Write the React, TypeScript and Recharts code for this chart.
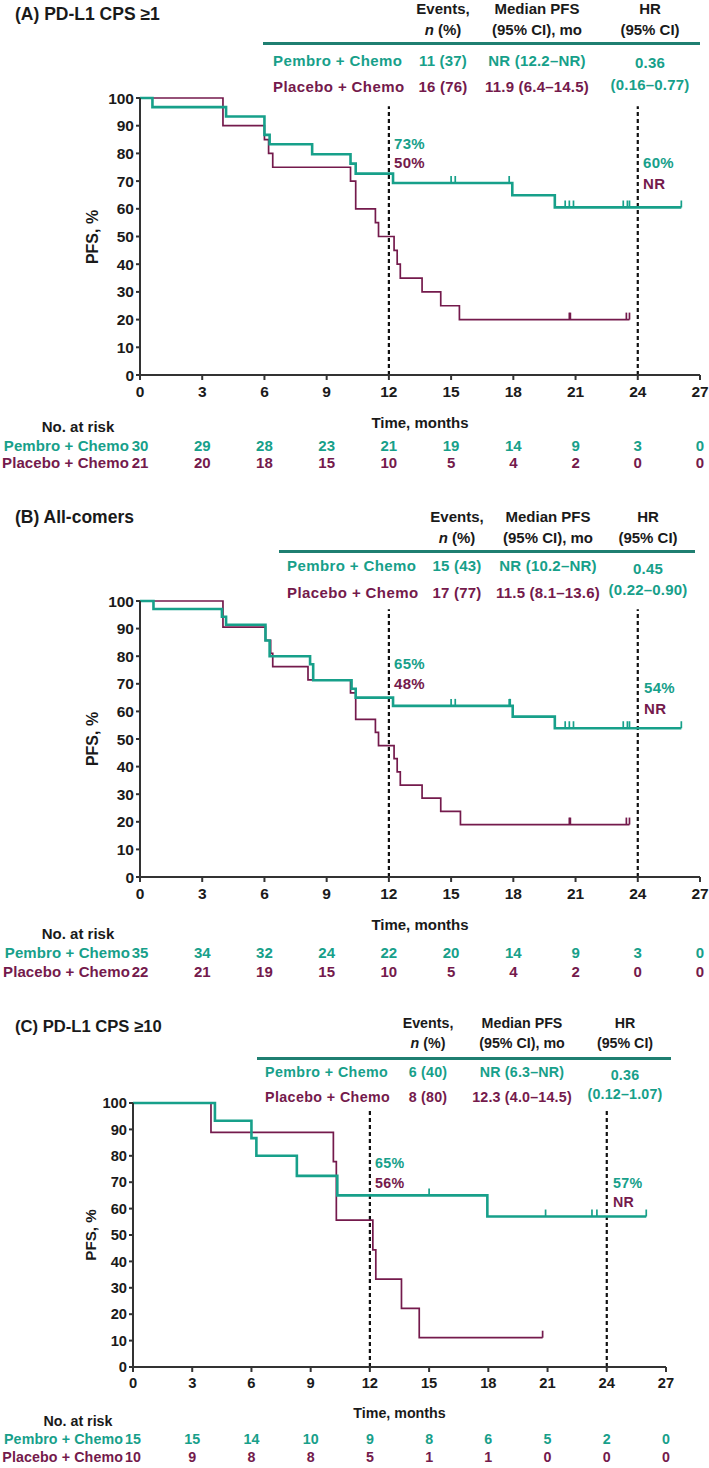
import React from 'react'
import { LineChart, Line, XAxis, YAxis, ReferenceLine } from 'recharts'

const TEAL = '#17a08a'
const MAROON = '#741a4c'
const RULE = '#1f7f71'
const INK = '#1a1a1a'
const AXIS = '#333333'
const FONT = '"Liberation Sans", Arial, Helvetica, sans-serif'

const monthTicks = [0, 3, 6, 9, 12, 15, 18, 21, 24, 27]
const pfsTicks = [0, 10, 20, 30, 40, 50, 60, 70, 80, 90, 100]
const armLabels = ['Pembro + Chemo', 'Placebo + Chemo']

// (A) PD-L1 CPS >= 1
const pembroA_t = [0, 0.6, 4.15, 6.0, 6.25, 8.3, 10.15, 10.4, 12.2, 17.95, 20.0]
const pembroA_s = [100, 96.7, 93.3, 86.7, 83.3, 79.7, 76.3, 72.7, 69.3, 64.9, 60.5]
const pembroA_cens = [15.0, 15.2, 17.8, 20.5, 20.7, 20.9, 23.3, 23.5, 23.6, 26.1]
const placeboA_t = [0, 4.0, 6.0, 6.2, 6.4, 10.15, 10.4, 11.35, 11.5, 12.25, 12.4, 12.55, 13.6, 14.5, 15.4]
const placeboA_s = [100, 90, 85, 80, 75, 70, 60, 55, 50, 45, 40, 35, 30, 25, 20]
const placeboA_cens = [20.7, 20.75, 23.45, 23.6]
const riskPembroA = [30, 29, 28, 23, 21, 19, 14, 9, 3, 0]
const riskPlaceboA = [21, 20, 18, 15, 10, 5, 4, 2, 0, 0]
const eventsA = ['11 (37)', '16 (76)']
const medianA = ['NR (12.2–NR)', '11.9 (6.4–14.5)']
const hrA = ['0.36', '(0.16–0.77)']
const at12A = ['73%', '50%']
const at24A = ['60%', 'NR']

// (B) All-comers
const pembroB_t = [0, 0.65, 3.95, 4.15, 6.05, 6.25, 8.2, 8.35, 10.2, 10.4, 12.2, 17.97, 20.0]
const pembroB_s = [100, 97.1, 94.3, 91.4, 85.7, 80.0, 77.1, 71.3, 68.2, 65.0, 62.0, 58.1, 53.9]
const pembroB_cens = [15.0, 15.2, 17.8, 17.85, 20.5, 20.7, 20.9, 23.3, 23.5, 23.6, 26.1]
const placeboB_t = [0, 4.0, 6.05, 6.3, 6.4, 8.1, 10.15, 10.4, 11.35, 11.5, 12.25, 12.4, 12.55, 13.6, 14.5, 15.45]
const placeboB_s = [100, 90.5, 85.7, 81.0, 76.2, 71.4, 66.7, 57.1, 52.4, 47.6, 42.9, 38.1, 33.3, 28.6, 23.8, 19.0]
const placeboB_cens = [20.7, 20.75, 23.45, 23.6]
const riskPembroB = [35, 34, 32, 24, 22, 20, 14, 9, 3, 0]
const riskPlaceboB = [22, 21, 19, 15, 10, 5, 4, 2, 0, 0]
const eventsB = ['15 (43)', '17 (77)']
const medianB = ['NR (10.2–NR)', '11.5 (8.1–13.6)']
const hrB = ['0.45', '(0.22–0.90)']
const at12B = ['65%', '48%']
const at24B = ['54%', 'NR']

// (C) PD-L1 CPS >= 10
const pembroC_t = [0, 4.15, 6.0, 6.25, 8.3, 10.35, 17.95]
const pembroC_s = [100, 93.3, 86.7, 80.0, 72.4, 65.0, 57.0]
const pembroC_cens = [15.0, 20.9, 23.25, 23.5, 26.0]
const placeboC_t = [0, 3.95, 10.15, 10.3, 12.15, 12.3, 13.6, 14.5]
const placeboC_s = [100, 88.9, 77.8, 55.6, 44.4, 33.3, 22.2, 11.1]
const placeboC_cens = [20.75]
const riskPembroC = [15, 15, 14, 10, 9, 8, 6, 5, 2, 0]
const riskPlaceboC = [10, 9, 8, 8, 5, 1, 1, 0, 0, 0]
const eventsC = ['6 (40)', '8 (80)']
const medianC = ['NR (6.3–NR)', '12.3 (4.0–14.5)']
const hrC = ['0.36', '(0.12–1.07)']
const at12C = ['65%', '56%']
const at24C = ['57%', 'NR']

type Pt = { t: number; s: number; c: boolean }

function kmData(times: number[], surv: number[], cens: number[]): Pt[] {
  const pts: Pt[] = times.map((t, i) => ({ t, s: surv[i], c: false }))
  cens.forEach((t) => {
    let s = surv[0]
    times.forEach((tt, i) => {
      if (tt <= t) s = surv[i]
    })
    pts.push({ t, s, c: true })
  })
  return pts.sort((a, b) => a.t - b.t)
}

const censorDot = (color: string, w: number) => (props: any) => {
  const { cx, cy, payload, index } = props
  if (!payload || !payload.c) return <g key={`d${index}`} />
  return <line key={`d${index}`} x1={cx} x2={cx} y1={cy} y2={cy - 7} stroke={color} strokeWidth={w} />
}

function Txt({ x, y, children, color = INK, size = 15, anchor = 'middle', weight = 700, spacing = 0 }: any) {
  const tx = anchor === 'middle' ? '-50%' : anchor === 'end' ? '-100%' : '0'
  return (
    <div
      style={{
        position: 'absolute',
        left: x,
        top: y,
        transform: `translate(${tx}, -50%)`,
        whiteSpace: 'nowrap',
        color,
        fontSize: size,
        fontWeight: weight,
        fontFamily: FONT,
        letterSpacing: spacing,
        lineHeight: 1,
      }}
    >
      {children}
    </div>
  )
}

interface PanelProps {
  title: string
  plot: { l: number; r: number; t: number; b: number }
  titleY: number
  head: { l1: number; l2: number; rule: number; ruleX: number[]; labelX: number; rows: number[]; hr: number[]; cols: number[] }
  foot: { time: number; nar: number; rows: number[]; labelEnd: number }
  notes: { x12: number; y12: number[]; x24: number; y24: number[] }
  pfsX: number
  k: number
  pembro: Pt[]
  placebo: Pt[]
  riskP: number[]
  riskQ: number[]
  events: string[]
  median: string[]
  hr: string[]
  at12: string[]
  at24: string[]
}

function Panel(p: PanelProps) {
  const yW = 45
  const plotW = p.plot.r - p.plot.l
  const plotH = p.plot.b - p.plot.t
  const fs = 15 * p.k
  const tickStyle = { fontSize: 15.5 * p.k, fontWeight: 700, fill: INK, fontFamily: FONT }
  const xOf = (m: number) => p.plot.l + (m / 27) * plotW
  const colors = [TEAL, MAROON]
  return (
    <>
      <Txt x={15} y={p.titleY} size={17.5 * p.k} anchor="start">{p.title}</Txt>
      <Txt x={p.head.cols[0]} y={p.head.l1} size={fs}>Events,</Txt>
      <Txt x={p.head.cols[0]} y={p.head.l2} size={fs}><i>n</i> (%)</Txt>
      <Txt x={p.head.cols[1]} y={p.head.l1} size={fs}>Median PFS</Txt>
      <Txt x={p.head.cols[1]} y={p.head.l2} size={fs}>(95% CI), mo</Txt>
      <Txt x={p.head.cols[2]} y={p.head.l1} size={fs}>HR</Txt>
      <Txt x={p.head.cols[2]} y={p.head.l2} size={fs}>(95% CI)</Txt>
      <div
        style={{
          position: 'absolute',
          left: p.head.ruleX[0],
          top: p.head.rule - 1.5,
          width: p.head.ruleX[1] - p.head.ruleX[0],
          height: 3,
          background: RULE,
        }}
      />
      {armLabels.map((lab, i) => (
        <React.Fragment key={lab}>
          <Txt x={p.head.labelX} y={p.head.rows[i]} size={fs} color={colors[i]} anchor="start" spacing={0.4}>{lab}</Txt>
          <Txt x={p.head.cols[0]} y={p.head.rows[i]} size={fs} color={colors[i]} spacing={0.2}>{p.events[i]}</Txt>
          <Txt x={p.head.cols[1]} y={p.head.rows[i]} size={fs} color={colors[i]} spacing={0.2}>{p.median[i]}</Txt>
          <Txt x={p.head.cols[2]} y={p.head.hr[i]} size={fs} color={TEAL} spacing={0.2}>{p.hr[i]}</Txt>
        </React.Fragment>
      ))}
      <div style={{ position: 'absolute', left: 0, top: p.plot.t - 10 }}>
        <LineChart
          width={709}
          height={plotH + 10 + 30}
          margin={{ top: 10, right: 709 - p.plot.r, bottom: 0, left: p.plot.l - yW }}
        >
          <XAxis
            type="number"
            dataKey="t"
            domain={[0, 27]}
            ticks={monthTicks}
            interval={0}
            height={30}
            stroke={AXIS}
            strokeWidth={2}
            tickSize={5}
            tickMargin={6}
            tick={tickStyle}
            allowDataOverflow
          />
          <YAxis
            type="number"
            domain={[0, 100]}
            ticks={pfsTicks}
            interval={0}
            width={yW}
            stroke={AXIS}
            strokeWidth={2}
            tickSize={4}
            tickMargin={2}
            tick={tickStyle}
          />
          <ReferenceLine
            segment={[{ x: 12, y: 0 }, { x: 12, y: 97 }]}
            stroke="#111"
            strokeWidth={2.2}
            strokeDasharray="4 3"
          />
          <ReferenceLine
            segment={[{ x: 24, y: 0 }, { x: 24, y: 97 }]}
            stroke="#111"
            strokeWidth={2.2}
            strokeDasharray="4 3"
          />
          <Line
            data={p.placebo}
            dataKey="s"
            type="stepAfter"
            stroke={MAROON}
            strokeWidth={1.7}
            dot={censorDot(MAROON, 1.7)}
            activeDot={false}
            isAnimationActive={false}
          />
          <Line
            data={p.pembro}
            dataKey="s"
            type="stepAfter"
            stroke={TEAL}
            strokeWidth={2.6}
            dot={censorDot(TEAL, 1.7)}
            activeDot={false}
            isAnimationActive={false}
          />
        </LineChart>
      </div>
      <div
        style={{
          position: 'absolute',
          left: p.pfsX,
          top: (p.plot.t + p.plot.b) / 2,
          transform: 'translate(-50%, -50%) rotate(-90deg)',
          whiteSpace: 'nowrap',
          fontSize: 16 * p.k,
          fontWeight: 700,
          fontFamily: FONT,
          color: INK,
        }}
      >
        PFS, %
      </div>
      <Txt x={p.notes.x12} y={p.notes.y12[0]} size={fs} color={TEAL} anchor="start" spacing={0.3}>{p.at12[0]}</Txt>
      <Txt x={p.notes.x12} y={p.notes.y12[1]} size={fs} color={MAROON} anchor="start" spacing={0.3}>{p.at12[1]}</Txt>
      <Txt x={p.notes.x24} y={p.notes.y24[0]} size={fs} color={TEAL} anchor="start" spacing={0.3}>{p.at24[0]}</Txt>
      <Txt x={p.notes.x24} y={p.notes.y24[1]} size={fs} color={MAROON} anchor="start" spacing={0.3}>{p.at24[1]}</Txt>
      <Txt x={(p.plot.l + p.plot.r) / 2} y={p.foot.time} size={fs}>Time, months</Txt>
      <Txt x={78} y={p.foot.nar} size={fs}>No. at risk</Txt>
      {[p.riskP, p.riskQ].map((row, i) => (
        <React.Fragment key={i}>
          <Txt x={p.foot.labelEnd} y={p.foot.rows[i]} size={fs} color={colors[i]} anchor="end" spacing={0.1}>{armLabels[i]}</Txt>
          {row.map((v, j) => (
            <Txt key={j} x={xOf(monthTicks[j])} y={p.foot.rows[i]} size={fs} color={colors[i]}>{v}</Txt>
          ))}
        </React.Fragment>
      ))}
    </>
  )
}

export default function App() {
  return (
    <div style={{ position: 'absolute', left: 0, top: 0, width: 709, height: 1468, background: '#fff', overflow: 'hidden' }}>
      <Panel
        title="(A) PD-L1 CPS ≥1"
        titleY={15}
        plot={{ l: 140, r: 700, t: 98, b: 375 }}
        head={{ l1: 8, l2: 29, rule: 43, ruleX: [263, 700], labelX: 273, rows: [60, 86], hr: [62, 84], cols: [443, 537, 650] }}
        foot={{ time: 422, nar: 426, rows: [445, 462], labelEnd: 129 }}
        notes={{ x12: 394, y12: [143, 162], x24: 643, y24: [162, 183] }}
        pfsX={93}
        k={1}
        pembro={kmData(pembroA_t, pembroA_s, pembroA_cens)}
        placebo={kmData(placeboA_t, placeboA_s, placeboA_cens)}
        riskP={riskPembroA}
        riskQ={riskPlaceboA}
        events={eventsA}
        median={medianA}
        hr={hrA}
        at12={at12A}
        at24={at24A}
      />
      <Panel
        title="(B) All-comers"
        titleY={518}
        plot={{ l: 140, r: 700, t: 601, b: 877 }}
        head={{ l1: 516, l2: 537, rule: 551, ruleX: [279, 695], labelX: 287, rows: [565, 592], hr: [568, 589], cols: [457, 548, 648] }}
        foot={{ time: 924, nar: 933, rows: [952, 971], labelEnd: 130 }}
        notes={{ x12: 394, y12: [663, 683], x24: 644, y24: [687, 708] }}
        pfsX={93}
        k={1}
        pembro={kmData(pembroB_t, pembroB_s, pembroB_cens)}
        placebo={kmData(placeboB_t, placeboB_s, placeboB_cens)}
        riskP={riskPembroB}
        riskQ={riskPlaceboB}
        events={eventsB}
        median={medianB}
        hr={hrB}
        at12={at12B}
        at24={at24B}
      />
      <Panel
        title="(C) PD-L1 CPS ≥10"
        titleY={1027}
        plot={{ l: 133, r: 666, t: 1103, b: 1367 }}
        head={{ l1: 1023, l2: 1043, rule: 1058, ruleX: [257, 671], labelX: 265, rows: [1072, 1097], hr: [1075, 1094], cols: [428, 522, 625] }}
        foot={{ time: 1413, nar: 1421, rows: [1439, 1457], labelEnd: 123 }}
        notes={{ x12: 375, y12: [1163, 1183], x24: 613, y24: [1183, 1202] }}
        pfsX={90}
        k={0.95}
        pembro={kmData(pembroC_t, pembroC_s, pembroC_cens)}
        placebo={kmData(placeboC_t, placeboC_s, placeboC_cens)}
        riskP={riskPembroC}
        riskQ={riskPlaceboC}
        events={eventsC}
        median={medianC}
        hr={hrC}
        at12={at12C}
        at24={at24C}
      />
    </div>
  )
}
